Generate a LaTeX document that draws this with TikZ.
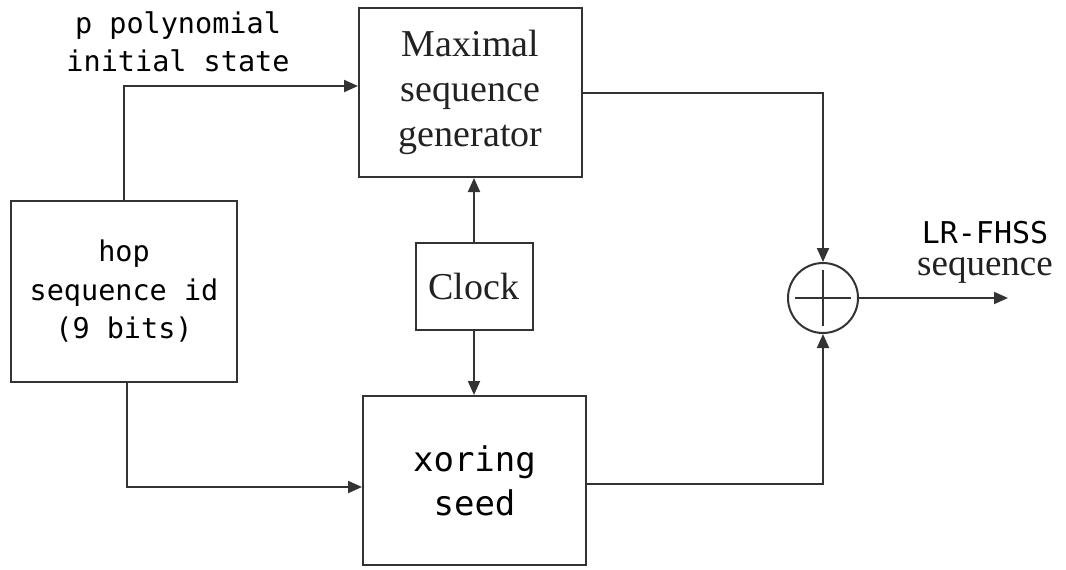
\documentclass[tikz,border=0pt]{standalone}
\usepackage{fontspec}
\setmainfont{Liberation Serif}
\newfontfamily\monofnt{DejaVu Sans Mono}
\usetikzlibrary{arrows.meta,calc}
\definecolor{linec}{HTML}{333333}
\definecolor{serifc}{HTML}{222222}
\tikzset{
  blk/.style={draw=linec, line width=2pt, rectangle, inner sep=0pt, align=center},
  monotext/.style={font=\monofnt\fontsize{28.5}{38.5}\selectfont, text=black},
  bigmono/.style={font=\monofnt\fontsize{34}{44}\selectfont, text=black},
  seriftext/.style={font=\fontsize{38}{45}\selectfont, text=serifc},
  conn/.style={draw=linec, line width=2pt, -{Triangle[length=14pt,width=12pt]}},
  plain/.style={draw=linec, line width=2pt},
}
\begin{document}
\begin{tikzpicture}[x=1pt,y=-1pt]
\useasboundingbox[fill=white] (0,0) rectangle (1066,570);
\node[blk, seriftext, minimum width=223pt, minimum height=169pt] (msg) at (470.5,92.5) {Maximal\\sequence\\generator};
\node[blk, monotext, minimum width=226pt, minimum height=181pt] (hop) at (124,291.5) {hop\\sequence id\\(9 bits)};
\node[blk, seriftext, minimum width=117pt, minimum height=87pt] (clk) at (474,286.5) {Clock};
\node[blk, bigmono, minimum width=223pt, minimum height=169pt] (xor) at (474.5,480.5) {xoring\\seed};
\node[draw=linec, line width=2pt, circle, minimum size=70pt, inner sep=0pt] (sum) at (823,298) {};
\draw[plain] ($(sum.center)+(-28,0)$) -- ($(sum.center)+(28,0)$);
\draw[plain] ($(sum.center)+(0,-28)$) -- ($(sum.center)+(0,28)$);
\coordinate (out) at (1008,298);
\node[monotext, align=center] (plab) at (178,42) {p polynomial\\initial state};
\node[align=center, inner sep=0pt, font=\fontsize{37}{32}\selectfont] (lr) at (985,252)
  {{\monofnt\fontsize{30}{32}\selectfont\color{black}LR-FHSS}\\{\color{serifc}sequence}};
\draw[conn] (hop.north) |- (msg.west |- 0,86);
\draw[conn] ([xshift=3pt]hop.south) |- (xor.west |- 0,487);
\draw[conn] (clk.north) -- (clk.north |- msg.south);
\draw[conn] (clk.south) -- (clk.south |- xor.north);
\draw[conn] (msg.east) -| (sum.north);
\draw[conn] (xor.east |- 0,484) -| (sum.south);
\draw[conn] (sum.east) -- (out);
\end{tikzpicture}
\end{document}
